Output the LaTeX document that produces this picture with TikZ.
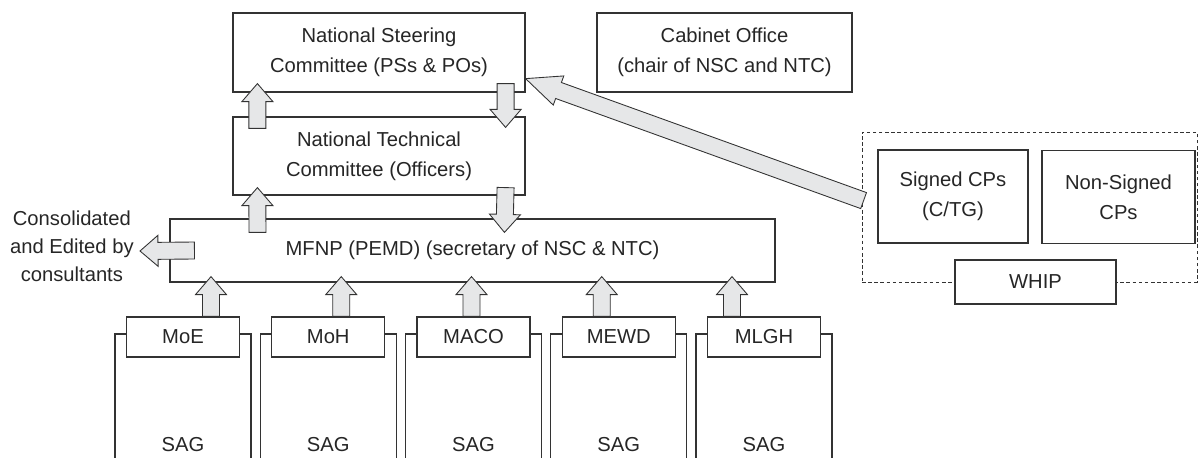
\documentclass[tikz,border=0pt]{standalone}
\usepackage{fontspec}
\setmainfont{Liberation Sans}
\usepackage{tikz}
\usetikzlibrary{calc}
\usepackage{xcolor}
\definecolor{arrfill}{HTML}{E6E7E8}
\definecolor{boxline}{HTML}{333333}
\newcommand{\shw}{0.17cm}
\newcommand{\hdw}{0.31cm}
\newcommand{\blarr}[3]{\draw[blarrow] let \p1=($(#2)-(#1)$), \n1={atan2(\y1,\x1)}, \n2={veclen(\x1,\y1)} in [shift={(#1)},rotate=\n1] (0pt,-\shw) -- (\n2-#3,-\shw) -- (\n2-#3,-\hdw) -- (\n2,0pt) -- (\n2-#3,\hdw) -- (\n2-#3,\shw) -- (0pt,\shw) -- cycle;}

\tikzset{
  bx/.style={draw=boxline, line width=0.7pt, fill=white, align=center, inner sep=0pt,
    text=black!85, font=\fontsize{11.5}{17}\selectfont},
  ln/.style={draw=boxline, line width=0.7pt},
  txt/.style={align=center, inner sep=0pt, text=black!85, font=\fontsize{11.5}{16}\selectfont},
  blarrow/.style={draw=boxline, line width=0.5pt, fill=arrfill, line join=miter},
  grp/.style={draw=boxline, line width=0.5pt, dash pattern=on 2pt off 1.5pt, inner sep=0pt}
}

\begin{document}
\begin{tikzpicture}[x=0.02cm, y=-0.02cm]

    \useasboundingbox (0,0) rectangle (1200,457);

    \node[bx, minimum width=5.84cm, minimum height=1.58cm] (nsc) at (379,52.5) {National Steering\\Committee (PSs \& POs)};
    \node[bx, minimum width=5.84cm, minimum height=1.56cm] (ntc) at (379,156) {National Technical\\Committee (Officers)};
    \node[bx, minimum width=12.1cm, minimum height=1.26cm] (mfnp) at (472.5,250.5) {MFNP (PEMD) (secretary of NSC \& NTC)};
    \node[bx, minimum width=5.1cm, minimum height=1.58cm] (cab) at (724.5,52.5) {Cabinet Office\\(chair of NSC and NTC)};
    \node[txt, anchor=east] (cons) at (134,246) {Consolidated\\and Edited by\\consultants};

    % contract partners
    \node[grp, minimum width=6.7cm, minimum height=3cm] (cps) at (1029.5,207) {};
    \node[bx, minimum width=3cm, minimum height=1.86cm] (signed) at (953,196.5) {Signed CPs\\(C/TG)};
    \node[bx, minimum width=3.06cm, minimum height=1.86cm] (nonsigned) at (1118.5,197) {Non-Signed\\CPs};
    \node[bx, minimum width=3.22cm, minimum height=0.88cm] (whip) at (1035.5,282) {WHIP};

    % ministries
    \foreach \name [count=\i] in {MoE,MoH,MACO,MEWD,MLGH} {
        \node[txt] (sag\i) at ({183+145.25*(\i-1)},445) {SAG};
        \draw[ln] ($(sag\i)+(-68,20)$) -- ++(0,-131) -- ++(136,0) -- ++(0,131);
        \node[bx, minimum width=2.26cm, minimum height=0.8cm] (min\i) at ({183+145.25*(\i-1)},337) {\name};
        \coordinate (s\i) at ($(min\i.north)+({43-15*\i},0)$);
        \coordinate (t\i) at ($(s\i |- mfnp.south)+(0,-6)$);
        \blarr{s\i}{t\i}{0.36cm}
    }

    \coordinate (a1) at ($(ntc.north west)+(25,12)$);
    \coordinate (a2) at ($(nsc.south west)+(25,-9)$);
    \coordinate (b1) at ($(nsc.south east)+(-20,-9)$);
    \coordinate (b2) at ($(ntc.north east)+(-20,11)$);
    \coordinate (c1) at ($(mfnp.north west)+(88,14)$);
    \coordinate (c2) at ($(ntc.south west)+(25,-8)$);
    \coordinate (d1) at ($(ntc.south east)+(-20,-8)$);
    \coordinate (d2) at ($(mfnp.north west)+(335,14)$);
    \coordinate (e1) at ($(mfnp.west)+(25,0)$);
    \coordinate (e2) at ($(cons.east)+(6,5)$);
    \coordinate (f1) at ($(cps.north west)+(2,69)$);
    \coordinate (f2) at ($(nsc.south east)+(0,-14)$);

    \blarr{a1}{a2}{0.36cm}
    \blarr{b1}{b2}{0.36cm}
    \blarr{c1}{c2}{0.36cm}
    \blarr{d1}{d2}{0.36cm}
    \blarr{e1}{e2}{0.36cm}
    \blarr{f1}{f2}{0.7cm}

\end{tikzpicture}
\end{document}
